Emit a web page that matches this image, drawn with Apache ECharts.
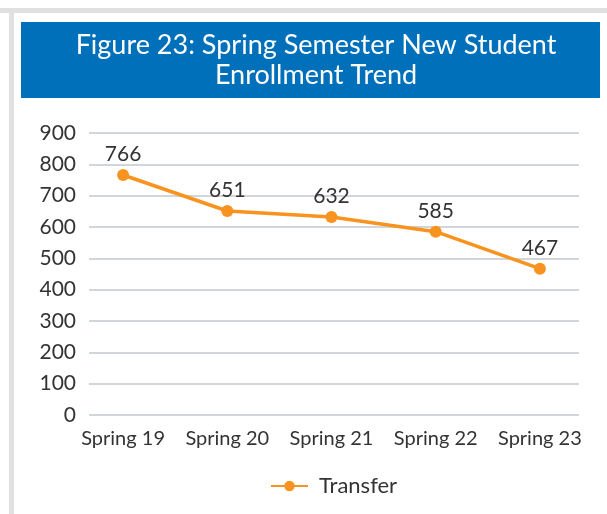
<!DOCTYPE html>
<html>
<head>
<meta charset="utf-8">
<script src="https://cdn.jsdelivr.net/npm/echarts@6/dist/echarts.min.js"></script>
<style>
  html, body { margin: 0; padding: 0; background: #fff; }
  #chart { width: 607px; height: 514px; }
</style>
</head>
<body>
<div id="chart"></div>
<script>
var categories = ['Spring 19', 'Spring 20', 'Spring 21', 'Spring 22', 'Spring 23'];
var transfer = [766, 651, 632, 585, 467];
var yTicks = { min: 0, max: 900, interval: 100 };

var myChart = echarts.init(document.getElementById('chart'));

var font = 'Lato';

var option = {
    backgroundColor: '#fff',
    animation: false,
    graphic: [
        { type: 'rect', shape: { x: 0, y: 8, width: 607, height: 5 }, style: { fill: '#e0e0e0' } },
        { type: 'rect', shape: { x: 9, y: 8, width: 5, height: 506 }, style: { fill: '#e0e0e0' } },
        { type: 'rect', shape: { x: 21, y: 22, width: 579, height: 76 }, style: { fill: '#0070bb' } }
    ],
    title: {
        text: 'Figure 23: Spring Semester New Student\nEnrollment Trend',
        left: 311,
        textAlign: 'center',
        top: 25,
        textStyle: {
            color: '#fff',
            fontFamily: font,
            fontWeight: 'normal',
            fontSize: 27,
            lineHeight: 30
        }
    },
    legend: {
        data: ['Transfer'],
        bottom: 12,
        left: 265,
        itemWidth: 37,
        itemHeight: 13,
        itemGap: 10,
        textStyle: { fontFamily: font, fontSize: 22, color: '#333', padding: [0, 0, 0, 6] }
    },
    grid: [
        { left: 89, right: 28, top: 133, bottom: 99 },
        { left: 71, right: 15, top: 133, bottom: 99 }
    ],
    xAxis: [
        { type: 'category', gridIndex: 0, data: categories, show: false },
        {
            type: 'category',
            gridIndex: 1,
            data: categories,
            axisLine: { show: false },
            axisTick: { show: false },
            axisLabel: { interval: 0, margin: 14, fontFamily: font, fontSize: 20, color: '#333' }
        }
    ],
    yAxis: [
        {
            type: 'value',
            gridIndex: 0,
            min: yTicks.min,
            max: yTicks.max,
            interval: yTicks.interval,
            axisLine: { show: false },
            axisTick: { show: false },
            axisLabel: { margin: 13, fontFamily: font, fontSize: 21, color: '#333' },
            splitLine: { lineStyle: { color: '#c3c7cc', width: 1.5 } }
        },
        {
            type: 'value',
            gridIndex: 1,
            min: yTicks.min,
            max: yTicks.max,
            interval: yTicks.interval,
            show: false,
            splitLine: { show: false }
        }
    ],
    series: [
        {
            name: 'Transfer',
            type: 'line',
            xAxisIndex: 1,
            yAxisIndex: 1,
            data: transfer,
            color: '#f7931e',
            symbol: 'circle',
            symbolSize: 12,
            lineStyle: { width: 3.5 },
            label: {
                show: true,
                position: 'top',
                distance: 4,
                fontFamily: font,
                fontSize: 21,
                color: '#333'
            }
        }
    ]
};

myChart.setOption(option);
window.addEventListener('resize', function () {
    myChart.resize();
});
</script>
</body>
</html>
